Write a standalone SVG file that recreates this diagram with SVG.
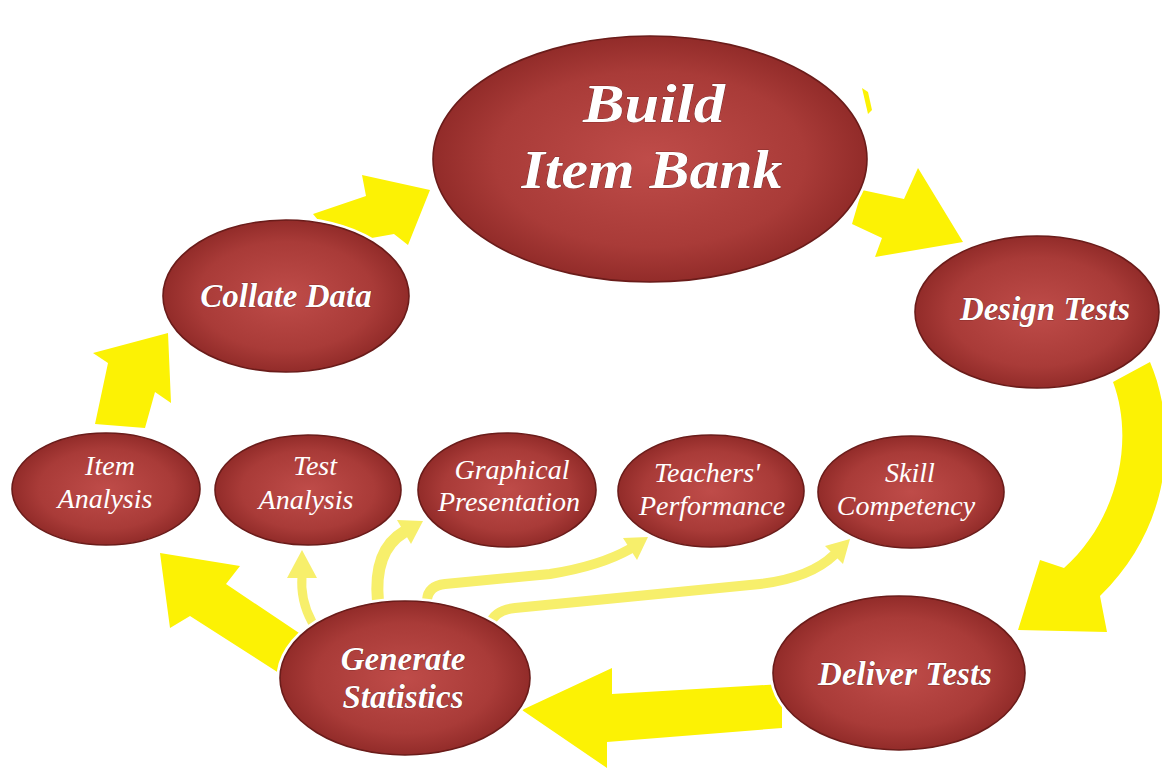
<svg xmlns="http://www.w3.org/2000/svg" width="1162" height="768" viewBox="0 0 1162 768">
  <defs>
    <radialGradient id="nodeFill" cx="50%" cy="50%" r="55%">
      <stop offset="0%" stop-color="#BF4C49"/>
      <stop offset="65%" stop-color="#A93B38"/>
      <stop offset="100%" stop-color="#8A2624"/>
    </radialGradient>
  </defs>
  <style>
    .halo { fill: none; stroke: #ffffff; stroke-width: 7; }
    .node { fill: url(#nodeFill); stroke: #6A1C1A; stroke-width: 1.6; }
    .big { fill: #ffffff; font-family: "Liberation Serif", serif; font-weight: bold; font-style: italic; text-anchor: middle; stroke: #5a1a1a; stroke-width: 0.6; paint-order: stroke; }
    .small { fill: #ffffff; font-family: "Liberation Serif", serif; font-style: italic; font-size: 28px; text-anchor: middle; }
    .thick { fill: #FCF204; stroke: none; }
    .thin { fill: none; stroke: #F7EF6B; stroke-linecap: round; }
    .thinhead { fill: #F7EF6B; stroke: none; }
  </style>
  <rect width="1162" height="768" fill="#ffffff"/>

  <g id="connectors">
    <!-- Collate Data -> Build Item Bank -->
    <polygon class="thick" points="313,214 366,196 362,175 430,190 408,245 394,234 338,244"/>
    <!-- Build Item Bank -> Design Tests -->
    <polygon class="thick" points="852,224 862,190 904,199 918,168 963,242 875,257 882,238"/>
    <polygon class="thick" points="862,88 868,92 872,110 868,114"/>
    <!-- Design Tests -> Deliver Tests -->
    <path class="thick" d="M1150,362 C1175,420 1178,520 1100,596 L1107,632 L1018,630 L1040,560 L1064,568 C1118,520 1135,440 1113,382 Z"/>
    <!-- Deliver Tests -> Generate Statistics -->
    <polygon class="thick" points="782,684 612,694 612,668 522,710 607,768 607,742 782,728"/>
    <!-- Generate Statistics -> Item Analysis -->
    <polygon class="thick" points="160,553 240,566 226,584 305,637 282,675 190,616 170,628"/>
    <!-- Item Analysis -> Collate Data -->
    <polygon class="thick" points="95,424 108,363 93,353 168,333 171,403 155,392 145,428"/>
    <!-- Generate Statistics -> Test Analysis -->
    <path class="thin" stroke-width="9" d="M312,622 Q300,600 302,576"/>
    <polygon class="thinhead" points="302,550 287,578 317,578"/>
    <!-- Generate Statistics -> Graphical Presentation -->
    <path class="thin" stroke-width="12" d="M378,602 C375,570 382,545 404,532"/>
    <polygon class="thinhead" points="423,521 411,544 397,520"/>
    <!-- Generate Statistics -> Teachers' Performance -->
    <path class="thin" stroke-width="10" d="M427,600 Q428,586 445,584 L550,574 Q600,566 630,549"/>
    <polygon class="thinhead" points="648,537 637,560 623,538"/>
    <!-- Generate Statistics -> Skill Competency -->
    <path class="thin" stroke-width="10" d="M490,624 Q495,610 515,608 L760,584 Q810,578 834,555"/>
    <polygon class="thinhead" points="850,539 843,564 825,546"/>
  </g>

  <g id="node-build">
    <ellipse class="halo" cx="650" cy="159" rx="217" ry="123"/>
    <ellipse class="node" cx="650" cy="159" rx="217" ry="123"/>
    <text class="big" x="654" y="122" font-size="54" textLength="142" lengthAdjust="spacingAndGlyphs">Build</text>
    <text class="big" x="652" y="188" font-size="54" textLength="261" lengthAdjust="spacingAndGlyphs">Item Bank</text>
  </g>

  <g id="node-collate">
    <ellipse class="halo" cx="286" cy="296" rx="123" ry="76"/>
    <ellipse class="node" cx="286" cy="296" rx="123" ry="76"/>
    <text class="big" x="286" y="307" font-size="33">Collate Data</text>
  </g>

  <g id="node-design">
    <ellipse class="halo" cx="1037" cy="312" rx="122" ry="76"/>
    <ellipse class="node" cx="1037" cy="312" rx="122" ry="76"/>
    <text class="big" x="1045" y="320" font-size="33">Design Tests</text>
  </g>

  <g id="node-deliver">
    <ellipse class="halo" cx="899" cy="673" rx="126" ry="77"/>
    <ellipse class="node" cx="899" cy="673" rx="126" ry="77"/>
    <text class="big" x="905" y="685" font-size="33">Deliver Tests</text>
  </g>

  <g id="node-generate">
    <ellipse class="halo" cx="405" cy="678" rx="125" ry="77"/>
    <ellipse class="node" cx="405" cy="678" rx="125" ry="77"/>
    <text class="big" x="403" y="670" font-size="33">Generate</text>
    <text class="big" x="403" y="708" font-size="33">Statistics</text>
  </g>

  <g id="node-item-analysis">
    <ellipse class="halo" cx="106" cy="489" rx="94" ry="56"/>
    <ellipse class="node" cx="106" cy="489" rx="94" ry="56"/>
    <text class="small" x="110" y="475">Item</text>
    <text class="small" x="105" y="508">Analysis</text>
  </g>

  <g id="node-test-analysis">
    <ellipse class="halo" cx="308" cy="490" rx="93" ry="55"/>
    <ellipse class="node" cx="308" cy="490" rx="93" ry="55"/>
    <text class="small" x="315" y="475">Test</text>
    <text class="small" x="306" y="509">Analysis</text>
  </g>

  <g id="node-graphical">
    <ellipse class="halo" cx="507" cy="490" rx="89" ry="57"/>
    <ellipse class="node" cx="507" cy="490" rx="89" ry="57"/>
    <text class="small" x="512" y="479">Graphical</text>
    <text class="small" x="509" y="511">Presentation</text>
  </g>

  <g id="node-teachers">
    <ellipse class="halo" cx="711" cy="491" rx="93" ry="56"/>
    <ellipse class="node" cx="711" cy="491" rx="93" ry="56"/>
    <text class="small" x="707" y="482">Teachers'</text>
    <text class="small" x="712" y="515">Performance</text>
  </g>

  <g id="node-skill">
    <ellipse class="halo" cx="911" cy="492" rx="93" ry="56"/>
    <ellipse class="node" cx="911" cy="492" rx="93" ry="56"/>
    <text class="small" x="910" y="482">Skill</text>
    <text class="small" x="906" y="515">Competency</text>
  </g>
</svg>
